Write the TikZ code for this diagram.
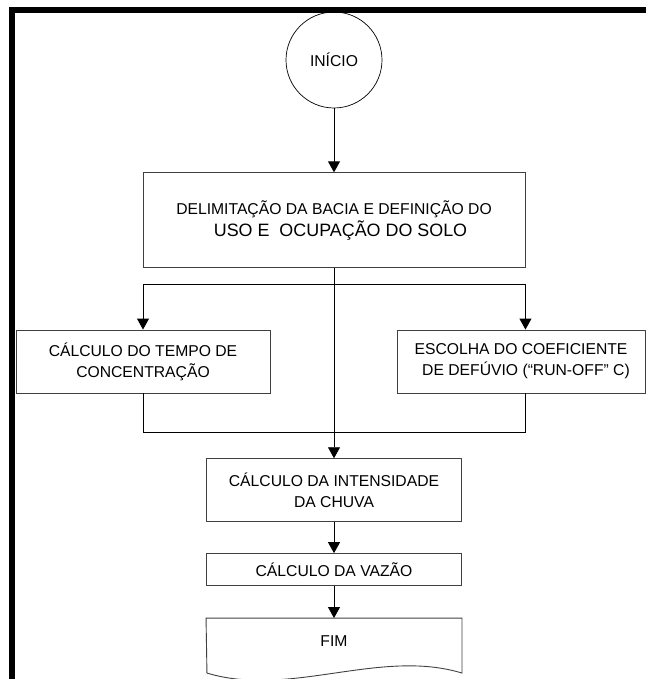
\documentclass[tikz,border=0pt]{standalone}
\usepackage{fontspec}
\setmainfont{Liberation Sans}
\usetikzlibrary{positioning,arrows.meta}
\definecolor{BoxGray}{HTML}{404040}

\begin{document}
\begin{tikzpicture}[x=1pt,y=-1pt,
    box/.style={draw=BoxGray, line width=0.9pt, minimum width=255pt, minimum height=63pt,
        inner sep=0pt, align=center, font=\fontsize{15.7}{21}\selectfont},
    startnode/.style={draw=black, circle, line width=0.7pt, minimum size=96pt,
        inner sep=0pt, font=\fontsize{15.7}{21}\selectfont},
    arrow/.style={-{Triangle[width=12pt,length=11pt]}, line width=0.9pt},
    plainline/.style={line width=0.9pt},
    framebar/.style={line width=6pt}
    ]
    \useasboundingbox (0,0) rectangle (646,679);
    % moldura
    \draw[framebar] (12,679) -- (12,10) -- (646,10);

    \node[startnode] (inicio) at (334,60) {INÍCIO};
    \node[box, minimum width=382pt, minimum height=95pt, below=64pt of inicio] (bacia)
        {DELIMITAÇÃO DA BACIA E DEFINIÇÃO DO\\[1pt]
         \hspace*{13pt}{\fontsize{17.9}{21}\selectfont USO E\ \ OCUPAÇÃO DO SOLO}};
    \node[box, minimum width=254pt] (tempo) at (143,361.5)
        {CÁLCULO DO TEMPO DE\\CONCENTRAÇÃO};
    \node[box, minimum width=248pt] (coeficiente) at (521,361.5)
        {ESCOLHA DO COEFICIENTE\\\hspace*{10pt}DE DEFÚVIO (“RUN-OFF” C)};
    \node[box, below=190pt of bacia] (intensidade) {CÁLCULO DA INTENSIDADE\\DA CHUVA};
    \node[box, minimum height=32pt, below=31pt of intensidade] (vazao) {CÁLCULO DA VAZÃO};
    \node[box, draw=none, minimum height=46pt, below=32pt of vazao] (fim) {FIM};
    % documento
    \draw[draw=BoxGray, line width=0.9pt] (fim.north west) -- (fim.north east) -- ++(0,55)
        .. controls +(-82,-25) and +(83,25) .. ++(-255,0) -- cycle;

    \draw[arrow] (inicio) -- (bacia);
    \draw[arrow] (bacia) -- (intensidade);
    \draw[arrow] (bacia.south) -- ++(0,16) -| (tempo.north);
    \draw[arrow] (bacia.south) -- ++(0,16) -| (coeficiente.north -| bacia.east);
    \draw[plainline] (tempo.south) -- ++(0,39) -| (coeficiente.south -| bacia.east);
    \draw[arrow] (intensidade) -- (vazao);
    \draw[arrow] (vazao) -- (fim);
\end{tikzpicture}
\end{document}
